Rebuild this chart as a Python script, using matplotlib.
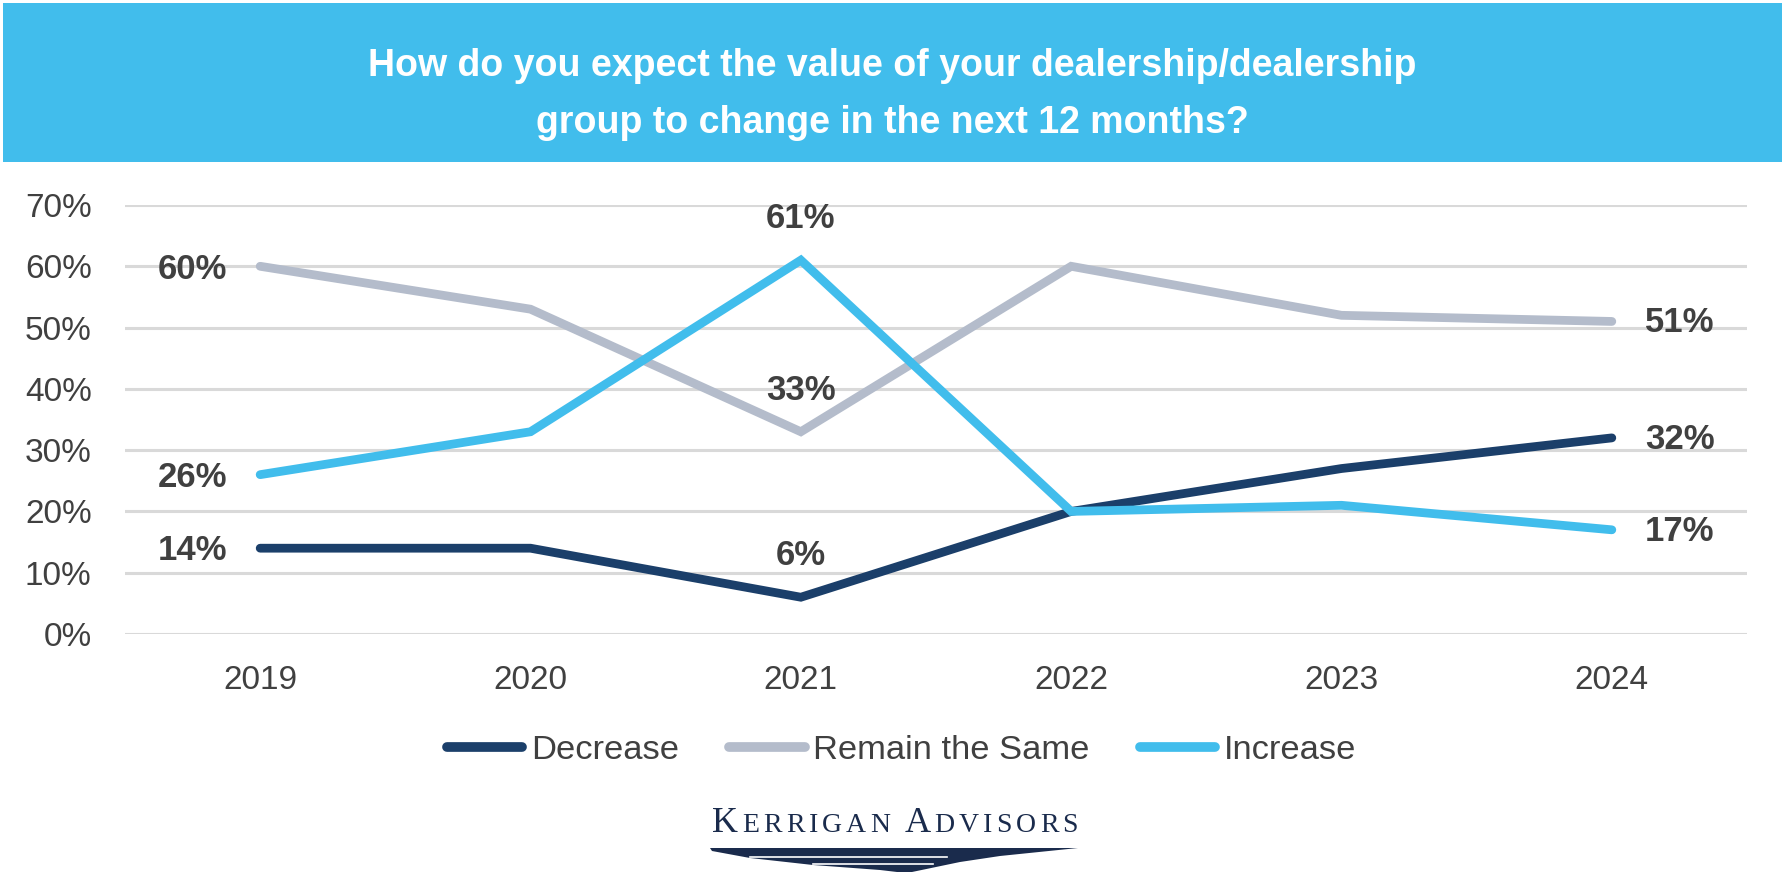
import matplotlib
matplotlib.use('Agg')
import matplotlib.pyplot as plt
from matplotlib.patches import Rectangle, Polygon
from matplotlib.lines import Line2D

plt.rcParams['font.family'] = ['Liberation Sans', 'DejaVu Sans']

# ---- data ----
years = ['2019', '2020', '2021', '2022', '2023', '2024']
decrease = [14, 14, 6, 20, 27, 32]
remain_same = [60, 53, 33, 60, 52, 51]
increase = [26, 33, 61, 20, 21, 17]
series_names = ['Decrease', 'Remain the Same', 'Increase']

title_lines = ['How do you expect the value of your dealership/dealership',
               'group to change in the next 12 months?']

c_dec = '#1b3f6a'
c_rem = '#b4bccb'
c_inc = '#41bdec'
c_txt = '#404040'

W, H = 1785, 873
fig = plt.figure(figsize=(W / 100, H / 100), dpi=100)
fig.patch.set_facecolor('white')


def fx(px):
    return px / W


def fy(py):
    return 1 - py / H


# title band
fig.patches.append(Rectangle((fx(3), fy(162)), fx(1779), 159 / H,
                             transform=fig.transFigure, facecolor=c_inc,
                             edgecolor='none', zorder=0))
fig.text(0.5, fy(66), title_lines[0], ha='center', va='center',
         color='white', fontsize=27, fontweight='bold')
fig.text(0.5, fy(123), title_lines[1], ha='center', va='center',
         color='white', fontsize=27, fontweight='bold')

ax = fig.add_axes([fx(125), fy(634), fx(1747 - 125), (634 - 205) / H])
x = list(range(len(years)))

lw = 6.3
ax.plot(x, decrease, color=c_dec, lw=lw, solid_capstyle='round', solid_joinstyle='miter', zorder=3)
ax.plot(x, remain_same, color=c_rem, lw=lw, solid_capstyle='round', solid_joinstyle='miter', zorder=3)
ax.plot(x, increase, color=c_inc, lw=lw, solid_capstyle='round', solid_joinstyle='miter', zorder=4)

ax.set_xlim(-0.5, len(years) - 0.5)
ax.set_ylim(0, 70)
ax.set_yticks(range(0, 71, 10))
ax.set_yticklabels([f'{v}%' for v in range(0, 71, 10)])
ax.set_xticks(x)
ax.set_xticklabels(years)
ax.tick_params(axis='both', length=0, labelsize=24, labelcolor=c_txt)
ax.tick_params(axis='y', pad=24)
ax.tick_params(axis='x', pad=22)
ax.grid(axis='y', color='#d9d9d9', lw=2.2)
ax.set_axisbelow(True)
for s in ax.spines.values():
    s.set_visible(False)

lab_kw = dict(textcoords='offset points', fontsize=25, fontweight='bold',
              color=c_txt, zorder=6)

# labels at first year (left of point)
for vals in (decrease, remain_same, increase):
    ax.annotate(f'{vals[0]}%', (0, vals[0]), xytext=(-24, -2),
                ha='right', va='center', **lab_kw)
# labels at 2021 (above point)
for vals in (decrease, remain_same, increase):
    ax.annotate(f'{vals[2]}%', (2, vals[2]), xytext=(0, 30),
                ha='center', va='center', **lab_kw)
# labels at last year (right of point)
for vals in (decrease, remain_same, increase):
    ax.annotate(f'{vals[-1]}%', (5, vals[-1]), xytext=(24, -1),
                ha='left', va='center', **lab_kw)

handles = [Line2D([0], [0], color=c, lw=7, solid_capstyle='round')
           for c in (c_dec, c_rem, c_inc)]
fig.legend(handles, series_names, loc='center',
           bbox_to_anchor=(0.5 + fx(9), fy(750)),
           ncol=3, frameon=False, fontsize=24.8, handlelength=2.2,
           handletextpad=0.25, columnspacing=1.45, labelcolor=c_txt)

# Kerrigan Advisors logo (small caps, tracked to fit)
navy = '#1a2b4c'
renderer = fig.canvas.get_renderer()
logo = 'KERRIGAN ADVISORS'
big = {0, 9}
texts = []
for i, ch in enumerate(logo):
    t = fig.text(0, fy(832), ch, fontsize=26 if i in big else 20,
                 family='Liberation Serif', color=navy, ha='left', va='baseline')
    texts.append(t)
widths = [t.get_window_extent(renderer).width if t.get_text() != ' ' else 6
          for t in texts]
logo_l, logo_r = 712, 1078
track = (logo_r - logo_l - sum(widths)) / (len(widths) - 1)
start = logo_l
for t, w in zip(texts, widths):
    t.set_x(fx(start))
    start += w + track

swoosh = [(710, 848), (1078, 848), (1000, 856), (960, 862), (912, 872),
          (897, 872), (880, 870), (813, 865), (750, 858), (712, 851)]
fig.patches.append(Polygon([(fx(a), fy(b)) for a, b in swoosh], closed=True,
                           transform=fig.transFigure, facecolor=navy,
                           edgecolor='none'))
for (x0, x1, yy) in [(750, 947, 856.5), (813, 933, 863.5)]:
    fig.lines.append(Line2D([fx(x0), fx(x1)], [fy(yy), fy(yy)],
                            transform=fig.transFigure, color='white', lw=1.2))

fig.savefig('out.png', dpi=100, facecolor='white')
